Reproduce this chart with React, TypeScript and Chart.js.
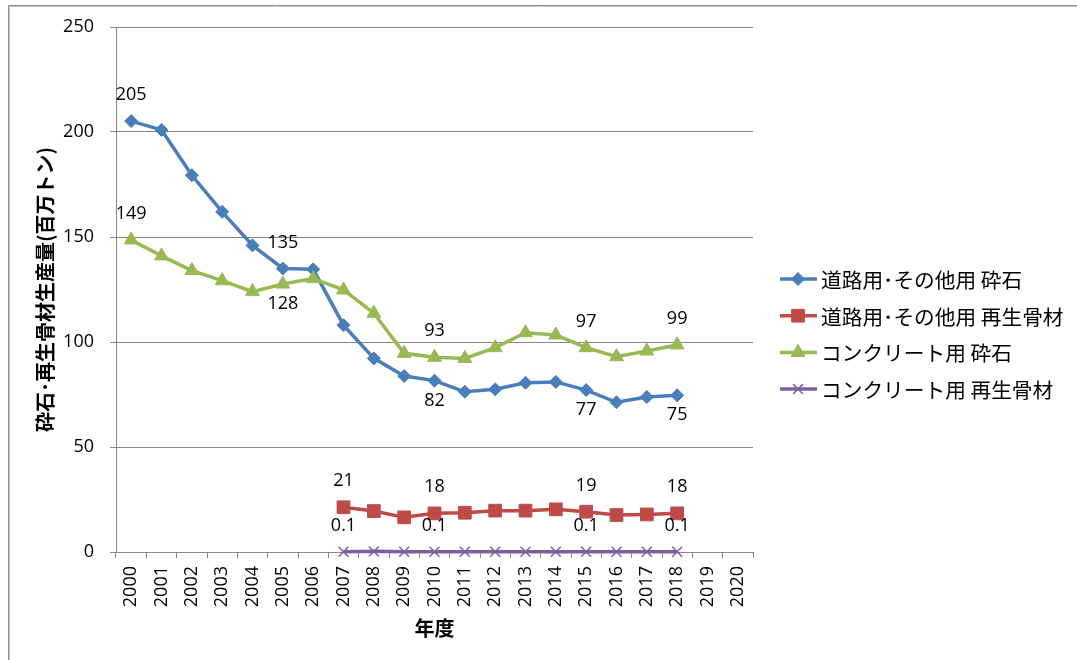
import React, { useEffect, useRef } from "react";
import { Chart, registerables } from "chart.js";
import { drawPoint } from "chart.js/helpers";

Chart.register(...registerables);

const years = [
  "2000", "2001", "2002", "2003", "2004", "2005", "2006", "2007", "2008", "2009", "2010",
  "2011", "2012", "2013", "2014", "2015", "2016", "2017", "2018", "2019", "2020",
];

const seriesNames = [
  "道路用･その他用 砕石",
  "道路用･その他用 再生骨材",
  "コンクリート用 砕石",
  "コンクリート用 再生骨材",
];

const roadCrushed = [
  205.2, 201, 179.4, 162, 146, 135, 134.6, 108, 92.2, 83.8, 81.6,
  76.3, 77.5, 80.6, 81, 77.1, 71.3, 73.8, 74.6, null, null,
];
const roadRecycled = [
  null, null, null, null, null, null, null, 21.3, 19.5, 16.5, 18.4,
  18.7, 19.7, 19.7, 20.3, 19.2, 17.6, 17.9, 18.4, null, null,
];
const concreteCrushed = [
  148.6, 141, 134, 129.2, 124, 127.6, 130.2, 124.8, 113.7, 94.6, 92.7,
  92.2, 97.3, 104.4, 103.3, 97.3, 93, 95.7, 98.6, null, null,
];
const concreteRecycled = [
  null, null, null, null, null, null, null, 0.1, 0.3, 0.1, 0.1,
  0.1, 0.1, 0.1, 0.1, 0.1, 0.1, 0.1, 0.1, null, null,
];

const yTicks = [0, 50, 100, 150, 200, 250];

// indices of points that carry a data label, per series
const labelIdx = [
  [0, 5, 10, 15, 18],
  [7, 10, 15, 18],
  [0, 5, 10, 15, 18],
  [7, 10, 15, 18],
];
const labelBelow = [
  [false, false, true, true, true],
  [false, false, false, false],
  [false, true, false, false, false],
  [false, false, false, false],
];

const colors = ["#4A7EBB", "#BE4B48", "#98B954", "#7D60A0"];
const styles = ["rectRot", "rect", "triangle", "crossRot"];
const radii = [6.5, 9, 8, 7];

const NUM_FONT = "'Open Sans', 'Noto Sans CJK JP', sans-serif";
const JP_FONT = "'Noto Sans CJK JP', 'Noto Sans', sans-serif";

const fmt = (v: number) => (v < 1 ? v.toFixed(1) : String(Math.round(v)));

const labelsPlugin = {
  id: "pointLabels",
  afterDatasetsDraw(chart: any) {
    const ctx = chart.ctx;
    ctx.save();
    ctx.font = `18px ${NUM_FONT}`;
    ctx.fillStyle = "#000";
    ctx.textAlign = "center";
    ctx.textBaseline = "middle";
    labelIdx.forEach((idxs, s) => {
      const meta = chart.getDatasetMeta(s);
      const data = chart.data.datasets[s].data as (number | null)[];
      idxs.forEach((i, k) => {
        const el = meta.data[i];
        const v = data[i];
        if (!el || v == null) return;
        const dy = labelBelow[s][k] ? 20 : -26;
        ctx.fillText(fmt(v), el.x, el.y + dy);
      });
    });
    ctx.restore();
  },
};

const legendPlugin = {
  id: "customLegend",
  afterDraw(chart: any) {
    const ctx = chart.ctx;
    ctx.save();
    seriesNames.forEach((name, i) => {
      const y = 279 + i * 36.7;
      ctx.strokeStyle = colors[i];
      ctx.lineWidth = 3.5;
      ctx.beginPath();
      ctx.moveTo(780, y);
      ctx.lineTo(817, y);
      ctx.stroke();
      ctx.fillStyle = colors[i];
      ctx.lineWidth = styles[i] === "crossRot" ? 1.5 : 1;
      drawPoint(ctx, { pointStyle: styles[i], radius: radii[i], borderWidth: ctx.lineWidth, rotation: 0 } as any, 798, y);
      ctx.fillStyle = "#000";
      ctx.font = `20.7px ${JP_FONT}`;
      ctx.textAlign = "left";
      ctx.textBaseline = "middle";
      ctx.fillText(name, 821, y + 1);
    });
    ctx.restore();
  },
};

const framePlugin = {
  id: "frame",
  beforeDraw(chart: any) {
    const ctx = chart.ctx;
    ctx.save();
    ctx.fillStyle = "#fff";
    ctx.fillRect(0, 0, chart.width, chart.height);
    ctx.strokeStyle = "#8c8c8c";
    ctx.lineWidth = 1;
    ctx.beginPath();
    ctx.moveTo(8.5, chart.height);
    ctx.lineTo(8.5, 5.5);
    ctx.lineTo(chart.width, 5.5);
    ctx.stroke();
    ctx.strokeStyle = "#c8c8c8";
    ctx.beginPath();
    ctx.moveTo(9.5, chart.height);
    ctx.lineTo(9.5, 6.5);
    ctx.lineTo(chart.width, 6.5);
    ctx.stroke();
    ctx.restore();
  },
};

export default function App() {
  const ref = useRef<HTMLCanvasElement>(null);
  useEffect(() => {
    if (!ref.current) return;
    const series = [roadCrushed, roadRecycled, concreteCrushed, concreteRecycled];
    const chart = new Chart(ref.current, {
      type: "line",
      data: {
        labels: years,
        datasets: series.map((d, i) => ({
          label: seriesNames[i],
          data: d,
          borderColor: colors[i],
          backgroundColor: colors[i],
          borderWidth: 3.5,
          pointStyle: styles[i] as any,
          pointRadius: radii[i],
          pointBorderWidth: styles[i] === "crossRot" ? 1.5 : 1,
          pointBorderColor: colors[i],
          pointBackgroundColor: colors[i],
          tension: 0,
          spanGaps: false,
          clip: false as any,
          order: 3 - i,
        })),
      },
      options: {
        animation: false,
        responsive: false,
        layout: { padding: { left: 0, top: 27, right: 324, bottom: 0 } },
        plugins: { legend: { display: false }, tooltip: { enabled: false } },
        scales: {
          x: {
            type: "category",
            offset: true,
            grid: {
              offset: true,
              drawOnChartArea: false,
              drawTicks: true,
              tickLength: 6,
              color: "#868686",
            },
            border: { display: true, color: "#868686" },
            ticks: {
              autoSkip: false,
              minRotation: 90,
              maxRotation: 90,
              padding: 8,
              color: "#000",
              font: { family: NUM_FONT, size: 18 },
            },
            title: {
              display: true,
              text: "年度",
              color: "#000",
              font: { family: JP_FONT, size: 20, weight: "bold", lineHeight: 1.2 },
              padding: { top: 0, bottom: 20 },
            },
            afterFit(scale: any) {
              scale.height = 108;
            },
          },
          y: {
            min: 0,
            max: 250,
            afterBuildTicks(scale: any) {
              scale.ticks = yTicks.map((v) => ({ value: v }));
            },
            grid: { color: "#868686", lineWidth: 1, tickLength: 6, drawTicks: true },
            border: { display: true, color: "#868686" },
            ticks: {
              padding: 16,
              color: "#000",
              font: { family: NUM_FONT, size: 18 },
            },
            title: {
              display: true,
              text: "砕石･再生骨材生産量(百万トン)",
              color: "#000",
              font: { family: JP_FONT, size: 20, weight: "bold", lineHeight: 1.2 },
              padding: { top: 33, bottom: 0 },
            },
            afterFit(scale: any) {
              scale.width = 116;
            },
          },
        },
      },
      plugins: [framePlugin, labelsPlugin, legendPlugin],
    });
    return () => chart.destroy();
  }, []);
  return (
    <div style={{ position: "fixed", left: 0, top: 0, width: 1077, height: 660, background: "#fff" }}>
      <canvas ref={ref} width={1077} height={660} style={{ width: 1077, height: 660, display: "block" }} />
    </div>
  );
}
